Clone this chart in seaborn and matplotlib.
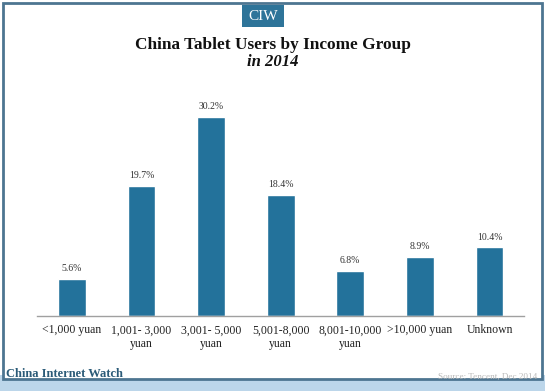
import matplotlib
matplotlib.use("Agg")
import matplotlib.pyplot as plt
import seaborn as sns
import pandas as pd
from matplotlib.patches import Rectangle

# Data
groups = ["<1,000 yuan", "1,001- 3,000\nyuan", "3,001- 5,000\nyuan", "5,001-8,000\nyuan",
          "8,001-10,000\nyuan", ">10,000 yuan", "Unknown"]
shares = [5.6, 19.7, 30.2, 18.4, 6.8, 8.9, 10.4]
value_labels = ["5.6%", "19.7%", "30.2%", "18.4%", "6.8%", "8.9%", "10.4%"]

df = pd.DataFrame({"group": groups, "share": shares})

sns.set_style("white")
plt.rcParams['font.family'] = ['Liberation Serif', 'DejaVu Serif']

bar_color = "#23729b"

fig = plt.figure(figsize=(5.45, 3.91), dpi=100)
ax = fig.add_axes([0.068, 0.192, 0.894, 0.552])
ax.set_facecolor("none")

sns.barplot(data=df, x="group", y="share", color=bar_color, width=0.4,
            saturation=1, ax=ax)

# value labels above bars
for i, (v, lab) in enumerate(zip(shares, value_labels)):
    ax.text(i, v + 0.9, lab, ha="center", va="bottom", fontsize=7, color="#333333")

ax.set_xlim(-0.5, 6.5)
ax.set_ylim(0, 32.8)
ax.set_xlabel("")
ax.set_ylabel("")
ax.set_yticks([])
for s in ["top", "right", "left"]:
    ax.spines[s].set_visible(False)
ax.spines["bottom"].set_color("#a0a0a0")
ax.spines["bottom"].set_linewidth(1)

ax.tick_params(axis="x", which="major", length=0, labelsize=8.5, pad=6, colors="#222222")
ax.set_xticks([x - 0.5 for x in range(8)], minor=True)
ax.tick_params(axis="x", which="minor", length=4, color="#a0a0a0", width=1)

# frame around the figure (behind the axes)
fig.patches.append(Rectangle((0, 0), 1, 16 / 391, transform=fig.transFigure,
                             facecolor="#bcd6ea", edgecolor="none", zorder=-3))
fig.patches.append(Rectangle((0.006, 0.03), 0.988, 0.962, transform=fig.transFigure,
                             facecolor="white", edgecolor="#4d7591", linewidth=2, zorder=-2))

# CIW badge
fig.patches.append(Rectangle((242 / 545, 1 - 27 / 391), 42 / 545, 22 / 391,
                             transform=fig.transFigure, facecolor="#2e7499",
                             edgecolor="none", zorder=-1))
fig.text(263 / 545, 1 - 16 / 391, "CIW", ha="center", va="center", color="white",
         fontsize=11, zorder=3)

# titles
fig.text(0.5, 1 - 45 / 391, "China Tablet Users by Income Group", ha="center", va="center",
         fontsize=12.4, fontweight="bold", color="#111111")
fig.text(0.5, 1 - 62 / 391, "in 2014", ha="center", va="center",
         fontsize=12, fontweight="bold", style="italic", color="#111111")

# footer
fig.text(6 / 545, 1 - 374 / 391, "China Internet Watch", ha="left", va="center",
         fontsize=9, fontweight="bold", color="#2b5b78")
fig.text(537 / 545, 1 - 377 / 391, "Source: Tencent, Dec 2014", ha="right", va="center",
         fontsize=6.6, color="#b8b8b8")

fig.savefig("out.png", dpi=100)
